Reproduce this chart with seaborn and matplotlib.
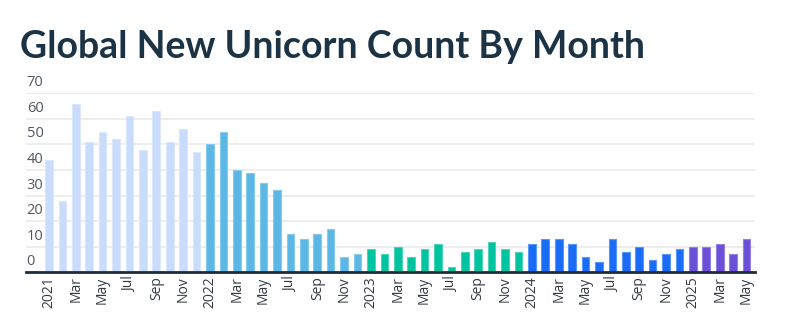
import matplotlib
matplotlib.use("Agg")
import matplotlib.pyplot as plt
import seaborn as sns
import pandas as pd
import matplotlib.transforms as mtransforms

sns.set_theme(style="white")
plt.rcParams['font.family'] = ['Open Sans', 'DejaVu Sans']

title = "Global New Unicorn Count By Month"

months = ["Jan", "Feb", "Mar", "Apr", "May", "Jun", "Jul", "Aug", "Sep", "Oct", "Nov", "Dec"]
years = ["2021", "2022", "2023", "2024", "2025"]

counts_2021 = [44, 28, 66, 51, 55, 52, 61, 48, 63, 51, 56, 47]
counts_2022 = [50, 55, 40, 39, 35, 32, 15, 13, 15, 17, 6, 7]
counts_2023 = [9, 7, 10, 6, 9, 11, 2, 8, 9, 12, 9, 8]
counts_2024 = [11, 13, 13, 11, 6, 4, 13, 8, 10, 5, 7, 9]
counts_2025 = [10, 10, 11, 7, 13]

year_colors = {"2021": "#cadcfc", "2022": "#5cb7e5", "2023": "#00c39f",
               "2024": "#1a6cf6", "2025": "#6b50d7"}
edge_colors = {"2021": "#dbe7fd", "2022": "#86caed", "2023": "#4dd5bc",
               "2024": "#5a95f8", "2025": "#9380e2"}

y_ticks = [0, 10, 20, 30, 40, 50, 60, 70]

all_counts = [counts_2021, counts_2022, counts_2023, counts_2024, counts_2025]
rows = []
for yr, vals in zip(years, all_counts):
    for i, v in enumerate(vals):
        lab = yr if i == 0 else months[i]
        rows.append({"year": yr, "month": months[i], "label": lab, "count": v})
df = pd.DataFrame(rows)
df["idx"] = range(len(df))

fig = plt.figure(figsize=(8.04, 3.22), dpi=100)
ax = fig.add_axes([26 / 804, 1 - 272.3 / 322, (755 - 26) / 804, (272.3 - 93.3) / 322])

sns.barplot(data=df, x="idx", y="count", hue="year", palette=year_colors,
            dodge=False, width=0.57, legend=False, ax=ax, saturation=1,
            linewidth=0.8)
for container, yr in zip(ax.containers, years):
    for p in container:
        p.set_edgecolor(edge_colors[yr])

ax.set_xlim(-1.71, len(df) - 1 + 0.63)
ax.set_ylim(0, 70)
ax.set_yticks(y_ticks)
ax.set_yticklabels([])
ax.tick_params(axis="y", length=0)
ax.grid(axis="y", color="#e8eaee", linewidth=1.1)
ax.set_axisbelow(True)
for s in ["top", "right", "left"]:
    ax.spines[s].set_visible(False)
ax.spines["bottom"].set_color("#1e2b38")
ax.spines["bottom"].set_linewidth(2)

trans = mtransforms.blended_transform_factory(ax.transAxes, ax.transData)
for v in y_ticks:
    ax.text(0.001, v + 1.2, str(v), transform=trans, ha="left", va="bottom",
            fontsize=10.5, color="#4f5862")

ticks = list(range(0, len(df), 2))
ax.set_xticks(ticks)
ax.set_xticklabels([df["label"][i] for i in ticks], rotation=90, fontsize=10, color="#333a42")
ax.tick_params(axis="x", length=0, pad=3)
ax.set_xlabel("")
ax.set_ylabel("")

fig.text(20 / 804, 1 - 58 / 322, title, fontsize=27, fontweight="bold",
         color="#1b3345", family=["Lato", "DejaVu Sans"], ha="left", va="baseline")

fig.savefig("out.png", dpi=100)
